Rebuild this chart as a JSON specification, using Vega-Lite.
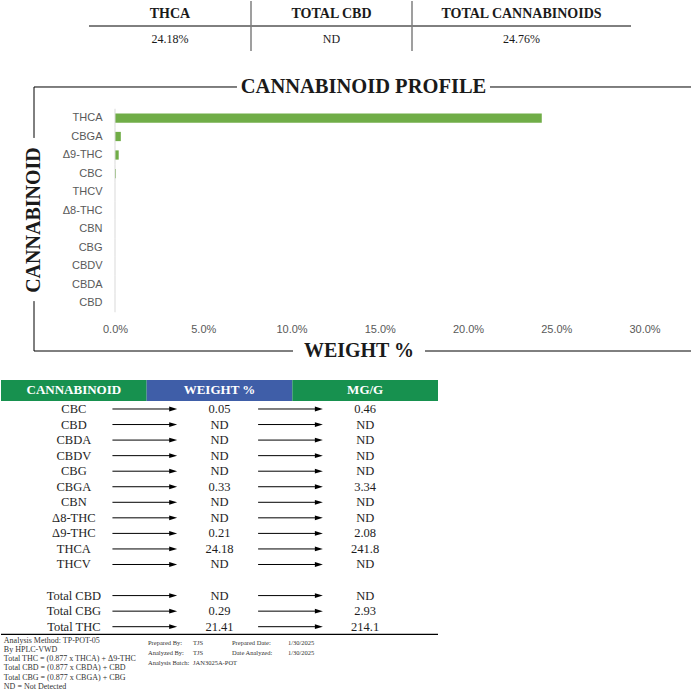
{
  "$schema": "https://vega.github.io/schema/vega-lite/v6.json",
  "padding": 0,
  "background": "white",
  "spacing": 0,
  "config": {
    "view": {"stroke": null},
    "font": "Liberation Serif",
    "concat": {"spacing": 0}
  },
  "datasets": {
    "summary": [
      {"metric": "THCA", "result": "24.18%"},
      {"metric": "TOTAL CBD", "result": "ND"},
      {"metric": "TOTAL CANNABINOIDS", "result": "24.76%"}
    ],
    "profile": [
      {"cannabinoid": "THCA", "weight": 24.18},
      {"cannabinoid": "CBGA", "weight": 0.33},
      {"cannabinoid": "Δ9-THC", "weight": 0.21},
      {"cannabinoid": "CBC", "weight": 0.05},
      {"cannabinoid": "THCV", "weight": 0},
      {"cannabinoid": "Δ8-THC", "weight": 0},
      {"cannabinoid": "CBN", "weight": 0},
      {"cannabinoid": "CBG", "weight": 0},
      {"cannabinoid": "CBDV", "weight": 0},
      {"cannabinoid": "CBDA", "weight": 0},
      {"cannabinoid": "CBD", "weight": 0}
    ],
    "tableHeader": [
      {"column": "CANNABINOID"},
      {"column": "WEIGHT %"},
      {"column": "MG/G"}
    ],
    "results": [
      {"cannabinoid": "CBC", "weight": 0.05, "mg_g": 0.46},
      {"cannabinoid": "CBD", "weight": "ND", "mg_g": "ND"},
      {"cannabinoid": "CBDA", "weight": "ND", "mg_g": "ND"},
      {"cannabinoid": "CBDV", "weight": "ND", "mg_g": "ND"},
      {"cannabinoid": "CBG", "weight": "ND", "mg_g": "ND"},
      {"cannabinoid": "CBGA", "weight": 0.33, "mg_g": 3.34},
      {"cannabinoid": "CBN", "weight": "ND", "mg_g": "ND"},
      {"cannabinoid": "Δ8-THC", "weight": "ND", "mg_g": "ND"},
      {"cannabinoid": "Δ9-THC", "weight": 0.21, "mg_g": 2.08},
      {"cannabinoid": "THCA", "weight": 24.18, "mg_g": 241.8},
      {"cannabinoid": "THCV", "weight": "ND", "mg_g": "ND"},
      {"cannabinoid": "Total CBD", "weight": "ND", "mg_g": "ND"},
      {"cannabinoid": "Total CBG", "weight": 0.29, "mg_g": 2.93},
      {"cannabinoid": "Total THC", "weight": 21.41, "mg_g": 214.1}
    ],
    "notes": [
      {"note": "Analysis Method: TP-POT-05"},
      {"note": "By HPLC-VWD"},
      {"note": "Total THC = (0.877 x  THCA) + Δ9-THC"},
      {"note": "Total CBD = (0.877 x  CBDA) + CBD"},
      {"note": "Total CBG = (0.877 x  CBGA) + CBG"},
      {"note": "ND = Not Detected"}
    ],
    "signoff": [
      {"label": "Prepared By:", "value": "TJS", "label2": "Prepared Date:", "value2": "1/30/2025"},
      {"label": "Analyzed By:", "value": "TJS", "label2": "Date Analyzed:", "value2": "1/30/2025"},
      {"label": "Analysis Batch:", "value": "JAN3025A-POT"}
    ],
    "one": [{}]
  },
  "vconcat": [
    {
      "hconcat": [
        {
          "width": 250, "height": 74,
          "data": {"name": "summary"},
          "transform": [{"filter": "datum.metric === 'THCA'"}],
          "encoding": {
            "x": {"field": "metric", "type": "nominal", "axis": null, "scale": {"type": "band", "paddingInner": 0, "paddingOuter": 0.2716, "align": 1}}
          },
          "layer": [
            {"mark": {"type": "text", "fontWeight": "bold", "fontSize": 14, "color": "#1a1a1a"},
             "encoding": {"y": {"datum": "header", "type": "nominal", "axis": null, "scale": {"type": "band", "domain": ["header", "result"], "paddingInner": 0, "paddingOuter": 0.48, "align": 0}}, "text": {"field": "metric"}}},
            {"mark": {"type": "text", "fontSize": 12, "color": "#1a1a1a"},
             "encoding": {"y": {"datum": "result", "type": "nominal", "axis": null}, "text": {"field": "result"}}},
            {"mark": {"type": "rule", "color": "#000000", "strokeWidth": 1},
             "encoding": {"x": {"field": "metric", "type": "nominal", "bandPosition": 0, "axis": null}, "x2": {"field": "metric", "bandPosition": 1}, "y": {"datum": "result", "type": "nominal", "bandPosition": 0, "axis": null}}}
          ]
        },
        {
          "width": 161, "height": 74,
          "data": {"name": "summary"},
          "transform": [{"filter": "datum.metric === 'TOTAL CBD'"}],
          "encoding": {
            "x": {"field": "metric", "type": "nominal", "axis": null, "scale": {"type": "band", "paddingInner": 0, "paddingOuter": 0}}
          },
          "layer": [
            {"mark": {"type": "text", "fontWeight": "bold", "fontSize": 14, "color": "#1a1a1a"},
             "encoding": {"y": {"datum": "header", "type": "nominal", "axis": null, "scale": {"type": "band", "domain": ["header", "result"], "paddingInner": 0, "paddingOuter": 0.48, "align": 0}}, "text": {"field": "metric"}}},
            {"mark": {"type": "text", "fontSize": 12, "color": "#1a1a1a"},
             "encoding": {"y": {"datum": "result", "type": "nominal", "axis": null}, "text": {"field": "result"}}},
            {"mark": {"type": "rule", "color": "#000000", "strokeWidth": 1},
             "encoding": {"x": {"field": "metric", "type": "nominal", "bandPosition": 0, "axis": null}, "x2": {"field": "metric", "bandPosition": 1}, "y": {"datum": "result", "type": "nominal", "bandPosition": 0, "axis": null}}},
            {"mark": {"type": "rule", "color": "#7f7f7f", "strokeWidth": 1.5},
             "encoding": {"x": {"field": "metric", "type": "nominal", "bandPosition": 0, "axis": null}, "y": {"datum": "header", "type": "nominal", "bandPosition": 0, "axis": null}, "y2": {"datum": "result", "bandPosition": 1}}}
          ]
        },
        {
          "width": 219, "height": 74,
          "data": {"name": "summary"},
          "transform": [{"filter": "datum.metric === 'TOTAL CANNABINOIDS'"}],
          "encoding": {
            "x": {"field": "metric", "type": "nominal", "axis": null, "scale": {"type": "band", "paddingInner": 0, "paddingOuter": 0}}
          },
          "layer": [
            {"mark": {"type": "text", "fontWeight": "bold", "fontSize": 14, "color": "#1a1a1a"},
             "encoding": {"y": {"datum": "header", "type": "nominal", "axis": null, "scale": {"type": "band", "domain": ["header", "result"], "paddingInner": 0, "paddingOuter": 0.48, "align": 0}}, "text": {"field": "metric"}}},
            {"mark": {"type": "text", "fontSize": 12, "color": "#1a1a1a"},
             "encoding": {"y": {"datum": "result", "type": "nominal", "axis": null}, "text": {"field": "result"}}},
            {"mark": {"type": "rule", "color": "#000000", "strokeWidth": 1},
             "encoding": {"x": {"field": "metric", "type": "nominal", "bandPosition": 0, "axis": null}, "x2": {"field": "metric", "bandPosition": 1}, "y": {"datum": "result", "type": "nominal", "bandPosition": 0, "axis": null}}},
            {"mark": {"type": "rule", "color": "#7f7f7f", "strokeWidth": 1.5},
             "encoding": {"x": {"field": "metric", "type": "nominal", "bandPosition": 0, "axis": null}, "y": {"datum": "header", "type": "nominal", "bandPosition": 0, "axis": null}, "y2": {"datum": "result", "bandPosition": 1}}}
          ]
        }
      ],
      "spacing": 0,
      "bounds": "flush"
    },
    {
      "width": 691, "height": 288,
      "layer": [
        {
          "data": {"name": "profile"},
          "encoding": {
            "y": {"field": "cannabinoid", "type": "nominal", "sort": null,
                  "scale": {"type": "band", "domain": ["THCA", "CBGA", "Δ9-THC", "CBC", "THCV", "Δ8-THC", "CBN", "CBG", "CBDV", "CBDA", "CBD"], "range": [33.75, 237.25], "paddingInner": 0, "paddingOuter": 0},
                  "axis": {"orient": "left", "offset": -114, "domain": false, "ticks": false, "tickSize": 0, "labelPadding": 13, "labelFont": "Liberation Sans", "labelFontSize": 11, "labelColor": "#595959", "title": null, "grid": false}}
          },
          "layer": [
            {"mark": {"type": "bar", "color": "#70ad47", "height": {"band": 0.5}},
             "encoding": {"x": {"field": "weight", "type": "quantitative", "title": null,
                                "scale": {"domain": [-6.459, 32.691], "nice": false, "zero": false},
                                "axis": {"orient": "bottom", "offset": -40, "values": [0, 5, 10, 15, 20, 25, 30], "labelExpr": "format(datum.value, '.1f') + '%'", "domain": false, "ticks": false, "tickSize": 0, "labelPadding": 0, "grid": false, "labelFont": "Liberation Sans", "labelFontSize": 11, "labelColor": "#595959", "title": null, "labelFlush": false, "labelOverlap": false}}}},
            {"mark": {"type": "rule", "color": "#d9d9d9", "strokeWidth": 1},
             "encoding": {"x": {"datum": 0, "type": "quantitative", "title": null},
                          "y": {"field": "cannabinoid", "type": "nominal", "sort": null, "bandPosition": 0},
                          "y2": {"field": "cannabinoid", "bandPosition": 1}}}
          ]
        },
        {
          "data": {"name": "one"},
          "layer": [
            {"mark": {"type": "rule", "color": "#000000", "strokeWidth": 1},
             "encoding": {"x": {"datum": -4.589, "type": "quantitative", "title": null}, "x2": {"datum": 6.912},
                          "y": {"datum": 0, "type": "quantitative", "axis": null, "scale": {"domain": [-0.04545, 1.04545], "reverse": true, "nice": false, "zero": false}}}},
            {"mark": {"type": "rule", "color": "#000000", "strokeWidth": 1},
             "encoding": {"x": {"datum": 21.246, "type": "quantitative", "title": null}, "x2": {"datum": 32.65},
                          "y": {"datum": 0, "type": "quantitative", "axis": null}}},
            {"mark": {"type": "rule", "color": "#000000", "strokeWidth": 1},
             "encoding": {"x": {"datum": -4.589, "type": "quantitative", "title": null}, "x2": {"datum": 10.085},
                          "y": {"datum": 1, "type": "quantitative", "axis": null}}},
            {"mark": {"type": "rule", "color": "#000000", "strokeWidth": 1},
             "encoding": {"x": {"datum": 17.564, "type": "quantitative", "title": null}, "x2": {"datum": 32.65},
                          "y": {"datum": 1, "type": "quantitative", "axis": null}}},
            {"mark": {"type": "rule", "color": "#000000", "strokeWidth": 1},
             "encoding": {"x": {"datum": -4.589, "type": "quantitative", "title": null},
                          "y": {"datum": 0, "type": "quantitative", "axis": null}, "y2": {"datum": 0.193}}},
            {"mark": {"type": "rule", "color": "#000000", "strokeWidth": 1},
             "encoding": {"x": {"datum": -4.589, "type": "quantitative", "title": null},
                          "y": {"datum": 0.811, "type": "quantitative", "axis": null}, "y2": {"datum": 1}}},
            {"mark": {"type": "text", "text": "CANNABINOID PROFILE", "fontWeight": "bold", "fontSize": 20.5, "color": "#1a1a1a", "baseline": "middle"},
             "encoding": {"x": {"datum": 14.079, "type": "quantitative", "title": null}, "y": {"datum": 0, "type": "quantitative", "axis": null}}},
            {"mark": {"type": "text", "text": "WEIGHT %", "fontWeight": "bold", "fontSize": 20, "color": "#1a1a1a", "baseline": "middle"},
             "encoding": {"x": {"datum": 13.824, "type": "quantitative", "title": null}, "y": {"datum": 1, "type": "quantitative", "axis": null}}},
            {"mark": {"type": "text", "text": "CANNABINOID", "fontWeight": "bold", "fontSize": 20, "color": "#1a1a1a", "baseline": "middle", "angle": 270},
             "encoding": {"x": {"datum": -4.589, "type": "quantitative", "title": null}, "y": {"datum": 0.504, "type": "quantitative", "axis": null}}}
          ]
        }
      ],
      "resolve": {"scale": {"y": "independent"}}
    },
    {
      "width": 437, "height": 272,
      "layer": [
        {"data": {"name": "tableHeader"},
         "mark": {"type": "rect"},
         "encoding": {
           "x": {"field": "column", "type": "nominal", "axis": null, "sort": null,
                 "scale": {"type": "band", "domain": ["CANNABINOID", "WEIGHT %", "MG/G"], "paddingInner": 0, "paddingOuter": 0}},
           "y": {"datum": "header", "type": "nominal", "axis": null, "bandPosition": -0.365,
                 "scale": {"type": "band", "domain": ["header", "CBC", "CBD", "CBDA", "CBDV", "CBG", "CBGA", "CBN", "Δ8-THC", "Δ9-THC", "THCA", "THCV", " ", "Total CBD", "Total CBG", "Total THC"], "paddingInner": 0, "paddingOuter": 0.746, "align": 0.977}},
           "y2": {"datum": "header", "bandPosition": 0.985},
           "color": {"field": "column", "type": "nominal", "legend": null,
                     "scale": {"domain": ["CANNABINOID", "WEIGHT %", "MG/G"], "range": ["#17914f", "#3f5ea8", "#17914f"]}}
         }},
        {"data": {"name": "tableHeader"},
         "mark": {"type": "text", "color": "white", "fontWeight": "bold", "fontSize": 13},
         "encoding": {
           "x": {"field": "column", "type": "nominal", "axis": null},
           "y": {"datum": "header", "type": "nominal", "axis": null, "bandPosition": 0.31},
           "text": {"field": "column"}
         }},
        {"data": {"name": "results"},
         "mark": {"type": "text", "fontSize": 12.5, "color": "#1e1e1e"},
         "encoding": {
           "x": {"datum": "CANNABINOID", "type": "nominal", "axis": null},
           "y": {"field": "cannabinoid", "type": "nominal", "axis": null},
           "text": {"field": "cannabinoid"}
         }},
        {"data": {"name": "results"},
         "mark": {"type": "text", "fontSize": 12.5, "color": "#1e1e1e"},
         "encoding": {
           "x": {"datum": "WEIGHT %", "type": "nominal", "axis": null},
           "y": {"field": "cannabinoid", "type": "nominal", "axis": null},
           "text": {"field": "weight", "type": "nominal"}
         }},
        {"data": {"name": "results"},
         "mark": {"type": "text", "fontSize": 12.5, "color": "#1e1e1e"},
         "encoding": {
           "x": {"datum": "MG/G", "type": "nominal", "axis": null},
           "y": {"field": "cannabinoid", "type": "nominal", "axis": null},
           "text": {"field": "mg_g", "type": "nominal"}
         }},
        {"data": {"name": "results"},
         "mark": {"type": "rule", "color": "#000000", "strokeWidth": 1},
         "encoding": {
           "x": {"datum": "CANNABINOID", "type": "nominal", "axis": null, "bandPosition": 0.765},
           "x2": {"datum": "CANNABINOID", "bandPosition": 1.175},
           "y": {"field": "cannabinoid", "type": "nominal", "axis": null}
         }},
        {"data": {"name": "results"},
         "mark": {"type": "point", "shape": "M-1,-0.6L1,0L-1,0.6Z", "filled": true, "color": "#000000", "opacity": 1, "size": 64},
         "encoding": {
           "x": {"datum": "CANNABINOID", "type": "nominal", "axis": null, "bandPosition": 1.182},
           "y": {"field": "cannabinoid", "type": "nominal", "axis": null}
         }},
        {"data": {"name": "results"},
         "mark": {"type": "rule", "color": "#000000", "strokeWidth": 1},
         "encoding": {
           "x": {"datum": "WEIGHT %", "type": "nominal", "axis": null, "bandPosition": 0.765},
           "x2": {"datum": "WEIGHT %", "bandPosition": 1.175},
           "y": {"field": "cannabinoid", "type": "nominal", "axis": null}
         }},
        {"data": {"name": "results"},
         "mark": {"type": "point", "shape": "M-1,-0.6L1,0L-1,0.6Z", "filled": true, "color": "#000000", "opacity": 1, "size": 64},
         "encoding": {
           "x": {"datum": "WEIGHT %", "type": "nominal", "axis": null, "bandPosition": 1.182},
           "y": {"field": "cannabinoid", "type": "nominal", "axis": null}
         }},
        {"data": {"name": "one"},
         "mark": {"type": "rule", "color": "#000000", "strokeWidth": 1.2},
         "encoding": {
           "x": {"datum": "CANNABINOID", "type": "nominal", "axis": null, "bandPosition": 0},
           "x2": {"datum": "MG/G", "bandPosition": 1},
           "y": {"datum": "Total THC", "type": "nominal", "axis": null, "bandPosition": 1}
         }}
      ]
    },
    {
      "hconcat": [
        {
          "width": 147, "height": 57,
          "data": {"name": "notes"},
          "mark": {"type": "text", "align": "left", "fontSize": 8, "color": "#333333"},
          "encoding": {
            "x": {"datum": "note", "type": "nominal", "axis": null, "bandPosition": 0, "scale": {"type": "band", "paddingInner": 0, "paddingOuter": 0.02}},
            "y": {"field": "note", "type": "nominal", "sort": null, "axis": null, "bandPosition": 0.3, "scale": {"type": "band", "paddingInner": 0, "paddingOuter": 0.098, "align": 0}},
            "text": {"field": "note"}
          }
        },
        {
          "width": 45, "height": 34,
          "data": {"name": "signoff"},
          "mark": {"type": "text", "align": "left", "fontSize": 6.5, "color": "#333333"},
          "encoding": {
            "x": {"datum": "label", "type": "nominal", "axis": null, "bandPosition": 0, "scale": {"type": "band", "paddingInner": 0, "paddingOuter": 0}},
            "y": {"field": "label", "type": "nominal", "sort": null, "axis": null, "scale": {"type": "band", "paddingInner": 0, "paddingOuter": 0.2, "align": 0}},
            "text": {"field": "label"}
          }
        },
        {
          "width": 39, "height": 34,
          "data": {"name": "signoff"},
          "mark": {"type": "text", "align": "left", "fontSize": 6.5, "color": "#333333"},
          "encoding": {
            "x": {"datum": "value", "type": "nominal", "axis": null, "bandPosition": 0, "scale": {"type": "band", "paddingInner": 0, "paddingOuter": 0}},
            "y": {"field": "label", "type": "nominal", "sort": null, "axis": null, "scale": {"type": "band", "paddingInner": 0, "paddingOuter": 0.2, "align": 0}},
            "text": {"field": "value"}
          }
        },
        {
          "width": 56, "height": 34,
          "data": {"name": "signoff"},
          "transform": [{"filter": "isValid(datum.label2)"}],
          "mark": {"type": "text", "align": "left", "fontSize": 6.5, "color": "#333333"},
          "encoding": {
            "x": {"datum": "label2", "type": "nominal", "axis": null, "bandPosition": 0, "scale": {"type": "band", "paddingInner": 0, "paddingOuter": 0}},
            "y": {"field": "label", "type": "nominal", "sort": null, "axis": null, "scale": {"type": "band", "domain": ["Prepared By:", "Analyzed By:", "Analysis Batch:"], "paddingInner": 0, "paddingOuter": 0.2, "align": 0}},
            "text": {"field": "label2"}
          }
        },
        {
          "width": 150, "height": 34,
          "data": {"name": "signoff"},
          "transform": [{"filter": "isValid(datum.value2)"}],
          "mark": {"type": "text", "align": "left", "fontSize": 6.5, "color": "#333333"},
          "encoding": {
            "x": {"datum": "value2", "type": "nominal", "axis": null, "bandPosition": 0, "scale": {"type": "band", "paddingInner": 0, "paddingOuter": 0}},
            "y": {"field": "label", "type": "nominal", "sort": null, "axis": null, "scale": {"type": "band", "domain": ["Prepared By:", "Analyzed By:", "Analysis Batch:"], "paddingInner": 0, "paddingOuter": 0.2, "align": 0}},
            "text": {"field": "value2"}
          }
        }
      ],
      "spacing": 0,
      "bounds": "flush"
    }
  ]
}
